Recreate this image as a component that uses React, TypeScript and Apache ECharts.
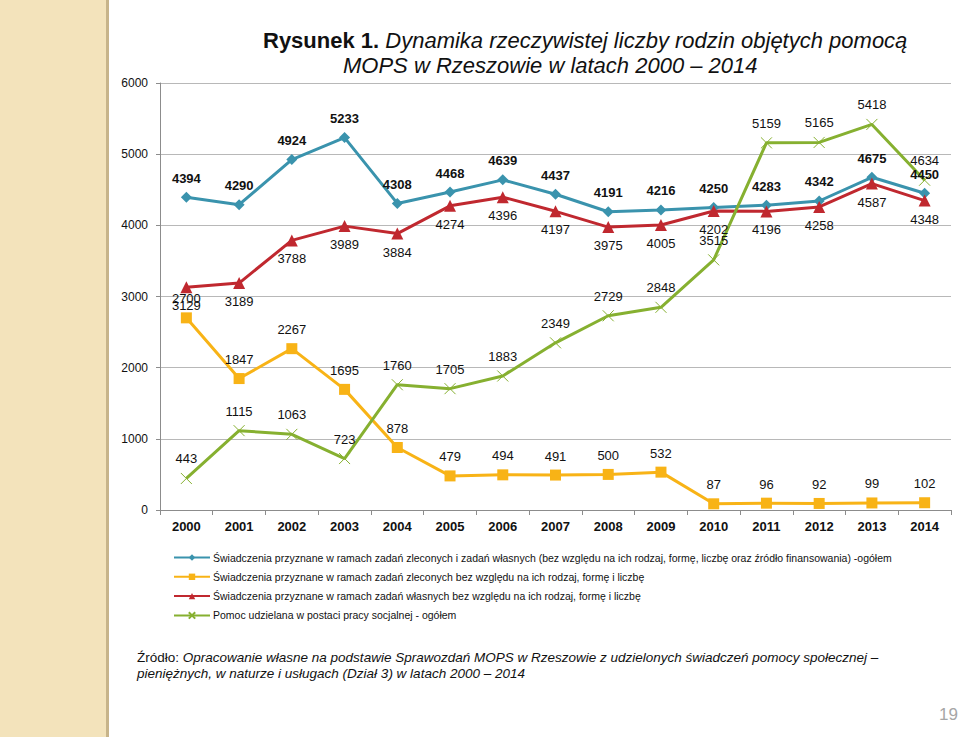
import React, { useEffect, useRef } from "react";
import * as echarts from "echarts";

const years = ["2000","2001","2002","2003","2004","2005","2006","2007","2008","2009","2010","2011","2012","2013","2014"];
const totalValues = [4394, 4290, 4924, 5233, 4308, 4468, 4639, 4437, 4191, 4216, 4250, 4283, 4342, 4675, 4450];
const commissionedValues = [2700, 1847, 2267, 1695, 878, 479, 494, 491, 500, 532, 87, 96, 92, 99, 102];
const ownValues = [3129, 3189, 3788, 3989, 3884, 4274, 4396, 4197, 3975, 4005, 4202, 4196, 4258, 4587, 4348];
const socialWorkValues = [443, 1115, 1063, 723, 1760, 1705, 1883, 2349, 2729, 2848, 3515, 5159, 5165, 5418, 4634];

const seriesNames = [
  "Świadczenia przyznane w ramach zadań zleconych i zadań własnych (bez względu na ich rodzaj, formę, liczbę oraz źródło finansowania) -ogółem",
  "Świadczenia przyznane w ramach zadań zleconych bez względu na ich rodzaj, formę i liczbę",
  "Świadczenia przyznane w ramach zadań własnych bez względu na ich rodzaj, formę i liczbę",
  "Pomoc udzielana w postaci pracy socjalnej - ogółem",
];

const titleBold = "Rysunek 1.";
const titleLine1 = "Dynamika rzeczywistej liczby rodzin objętych pomocą";
const titleLine2 = "MOPS w Rzeszowie w latach 2000 – 2014";
const sourceLabel = "Źródło:";
const sourceLine1 = "Opracowanie własne na podstawie Sprawozdań MOPS w Rzeszowie z udzielonych świadczeń pomocy społecznej –";
const sourceLine2 = "pieniężnych, w naturze i usługach (Dział 3) w latach 2000 – 2014";
const pageNumber = "19";

const FONT = "'Liberation Sans', Arial, sans-serif";

export default function App() {
  const ref = useRef<HTMLDivElement>(null);
  useEffect(() => {
    document.body.style.margin = "0";
    const chart = echarts.init(ref.current!, null, { renderer: "svg" });
    const labelBase = { show: true, fontFamily: FONT, fontSize: 13, color: "#111" };
    chart.setOption({
      animation: false,
      backgroundColor: "#ffffff",
      textStyle: { fontFamily: FONT },
      grid: { left: 160, right: 8, top: 83, bottom: 227 },
      legend: {
        orient: "vertical",
        left: 168,
        top: 547,
        itemGap: 8.3,
        itemWidth: 36,
        itemHeight: 8,
        textStyle: { fontFamily: FONT, fontSize: 10.5, color: "#111", padding: [0, 0, 0, -2] },
        data: seriesNames,
      },
      xAxis: {
        type: "category",
        data: years,
        boundaryGap: true,
        axisLine: { lineStyle: { color: "#8c8c8c", width: 1 } },
        axisTick: { show: true, length: 5, lineStyle: { color: "#8c8c8c" } },
        axisLabel: { fontFamily: FONT, fontSize: 13, fontWeight: "bold", color: "#111", margin: 10 },
      },
      yAxis: {
        type: "value",
        min: 0,
        max: 6000,
        interval: 1000,
        axisLine: { show: true, lineStyle: { color: "#8c8c8c" } },
        axisTick: { show: true, length: 4, lineStyle: { color: "#8c8c8c" } },
        axisLabel: { fontFamily: FONT, fontSize: 12, color: "#111", margin: 12, formatter: (v: number) => String(v) },
        splitLine: { lineStyle: { color: "#b8b8b8", width: 1 } },
      },
      series: [
        {
          name: seriesNames[0],
          type: "line",
          data: totalValues,
          symbol: "diamond",
          symbolSize: 11,
          lineStyle: { color: "#3a93ad", width: 3 },
          itemStyle: { color: "#3a93ad" },
          label: { ...labelBase, position: "top", distance: 7, fontWeight: "bold" },
        },
        {
          name: seriesNames[1],
          type: "line",
          data: commissionedValues,
          symbol: "rect",
          symbolSize: 11,
          lineStyle: { color: "#f8b316", width: 3 },
          itemStyle: { color: "#f8b316" },
          label: { ...labelBase, position: "top", distance: 7 },
        },
        {
          name: seriesNames[2],
          type: "line",
          data: ownValues,
          symbol: "triangle",
          symbolSize: 12,
          lineStyle: { color: "#c0282f", width: 3 },
          itemStyle: { color: "#c0282f" },
          label: { ...labelBase, position: "bottom", distance: 6 },
        },
        {
          name: seriesNames[3],
          type: "line",
          data: socialWorkValues,
          symbol: "path://M0,0L10,10M10,0L0,10",
          symbolSize: 11,
          lineStyle: { color: "#86b030", width: 3 },
          itemStyle: { color: "#86b030", borderColor: "#86b030", borderWidth: 1 },
          label: { ...labelBase, position: "top", distance: 7 },
        },
      ],
      graphic: [
        { type: "rect", left: 0, top: 0, shape: { x: 0, y: 0, width: 106, height: 737 }, style: { fill: "#f3e3bb" }, silent: true },
        { type: "rect", left: 106, top: 0, shape: { x: 0, y: 0, width: 3, height: 737 }, style: { fill: "#c7b48a" }, silent: true },
        {
          type: "text",
          x: 263,
          y: 40,
          style: {
            text: "{b|" + titleBold + "}{i| " + titleLine1 + "}",
            verticalAlign: "middle",
            rich: {
              b: { fontFamily: FONT, fontSize: 22, fontWeight: "bold", fill: "#111" },
              i: { fontFamily: FONT, fontSize: 22, fontStyle: "italic", fill: "#111" },
            },
          },
        },
        {
          type: "text",
          x: 343,
          y: 65,
          style: { text: titleLine2, fontFamily: FONT, fontSize: 22, fontStyle: "italic", fill: "#111", verticalAlign: "middle" },
        },
        {
          type: "text",
          x: 137,
          y: 657,
          style: {
            text: "{n|" + sourceLabel + "}{i| " + sourceLine1 + "}",
            verticalAlign: "middle",
            rich: {
              n: { fontFamily: FONT, fontSize: 13.5, fill: "#111" },
              i: { fontFamily: FONT, fontSize: 13.5, fontStyle: "italic", fill: "#111" },
            },
          },
        },
        {
          type: "text",
          x: 137,
          y: 673,
          style: { text: sourceLine2, fontFamily: FONT, fontSize: 13.5, fontStyle: "italic", fill: "#111", verticalAlign: "middle" },
        },
        {
          type: "text",
          x: 958,
          y: 714,
          style: { text: pageNumber, fontFamily: FONT, fontSize: 17, fill: "#a6a6a6", align: "right", verticalAlign: "middle" },
        },
      ],
    });
    return () => chart.dispose();
  }, []);
  return <div ref={ref} style={{ width: 959, height: 737 }} />;
}
